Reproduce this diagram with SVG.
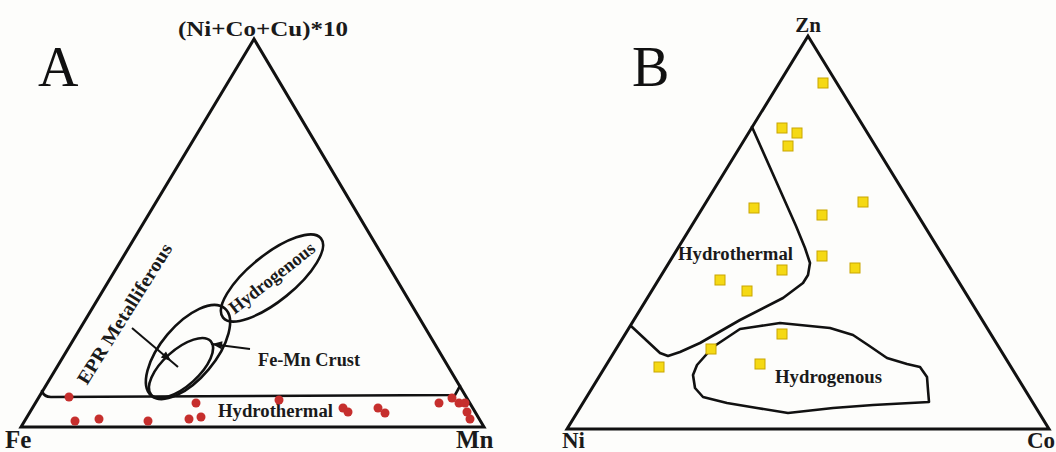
<svg xmlns="http://www.w3.org/2000/svg" width="1056" height="452" viewBox="0 0 1056 452">
<style>
.frame{fill:none;stroke:#111;stroke-width:3;stroke-linejoin:miter}
.reg{fill:none;stroke:#111;stroke-width:2.6;stroke-linejoin:round;stroke-linecap:round}
.lbl{font-family:"Liberation Serif",serif;font-weight:bold;fill:#1a1a1a}
.big{font-family:"Liberation Serif",serif;font-size:56px;fill:#111}
.dot{fill:#c62f2d}
.sq{fill:#f5d914;stroke:#c9a600;stroke-width:1}
.arr{stroke:#111;stroke-width:2;fill:none}
.head{fill:#111}
</style>
<rect width="1056" height="452" fill="#fdfdfb"/>

<!-- Panel A -->
<g id="panelA">
  <text class="big" x="38" y="86">A</text>
  <g id="triangleA">
    <path class="frame" d="M254,39 L21,427 L484,427 Z"/>
    <text class="lbl" x="263" y="36" font-size="21" text-anchor="middle" textLength="170" lengthAdjust="spacingAndGlyphs">(Ni+Co+Cu)*10</text>
    <text class="lbl" x="5" y="448" font-size="25">Fe</text>
    <text class="lbl" x="456" y="448" font-size="25">Mn</text>
  </g>
  <g id="hydrothermalA">
    <path class="reg" d="M42,391 Q44,397 51,397 L455,395 L460,386"/>
    <text class="lbl" x="218" y="417" font-size="18" textLength="115" lengthAdjust="spacingAndGlyphs">Hydrothermal</text>
  </g>
  <g id="hydrogenousA">
    <ellipse class="reg" cx="272" cy="278" rx="63" ry="23" transform="rotate(-39 272 278)"/>
    <text class="lbl" font-size="18.5" text-anchor="middle" transform="translate(272,278) rotate(-38)" y="6" textLength="104" lengthAdjust="spacingAndGlyphs">Hydrogenous</text>
  </g>
  <g id="eprMetalliferous">
    <ellipse class="reg" cx="188" cy="352" rx="57" ry="27" transform="rotate(-50 188 352)"/>
    <text class="lbl" font-size="19" text-anchor="middle" transform="translate(130,317) rotate(-58)" textLength="162" lengthAdjust="spacingAndGlyphs">EPR Metalliferous</text>
  </g>
  <g id="feMnCrust">
    <ellipse class="reg" cx="181" cy="368" rx="40" ry="18" transform="rotate(-42 181 368)"/>
    <text class="lbl" x="258" y="366" font-size="18" textLength="102" lengthAdjust="spacingAndGlyphs">Fe-Mn Crust</text>
  </g>
  <g id="samplesA">
    <circle class="dot" cx="69" cy="397" r="4.5"/>
    <circle class="dot" cx="75" cy="421" r="4.5"/>
    <circle class="dot" cx="99" cy="419" r="4.5"/>
    <circle class="dot" cx="148" cy="421" r="4.5"/>
    <circle class="dot" cx="196" cy="403" r="4.5"/>
    <circle class="dot" cx="189" cy="419" r="4.5"/>
    <circle class="dot" cx="201" cy="417" r="4.5"/>
    <circle class="dot" cx="279" cy="400" r="4.5"/>
    <circle class="dot" cx="343" cy="408" r="4.5"/>
    <circle class="dot" cx="348" cy="412" r="4.5"/>
    <circle class="dot" cx="378" cy="408" r="4.5"/>
    <circle class="dot" cx="385" cy="413" r="4.5"/>
    <circle class="dot" cx="439" cy="403" r="4.5"/>
    <circle class="dot" cx="452" cy="398" r="4.5"/>
    <circle class="dot" cx="459" cy="403" r="4.5"/>
    <circle class="dot" cx="465" cy="403" r="4.5"/>
    <circle class="dot" cx="467" cy="412" r="4.5"/>
    <circle class="dot" cx="470" cy="419" r="4.5"/>
  </g>
</g>

<g id="connectors">
  <line class="arr" x1="132" y1="328" x2="178" y2="367"/>
  <polygon class="head" points="171,361 160.8,357.6 166,351.4"/>
  <line class="arr" x1="250" y1="349" x2="211" y2="344"/>
  <polygon class="head" points="212,344 222.5,341.3 221.5,349.3"/>
</g>

<!-- Panel B -->
<g id="panelB">
  <text class="big" x="632" y="86">B</text>
  <g id="triangleB">
    <path class="frame" d="M808,36 L567,429 L1049,429 Z"/>
    <text class="lbl" x="808" y="32" font-size="21" text-anchor="middle">Zn</text>
    <text class="lbl" x="562" y="448" font-size="23">Ni</text>
    <text class="lbl" x="1027" y="448" font-size="23">Co</text>
  </g>
  <g id="hydrothermalB">
    <polyline class="reg" points="752,127 796,226 805,248 810,263 808,275 803,283 783,298 740,320 700,343 680,352 668,356 660,353 631,326"/>
    <text class="lbl" x="678" y="260" font-size="18" textLength="115" lengthAdjust="spacingAndGlyphs">Hydrothermal</text>
  </g>
  <g id="hydrogenousB">
    <polygon class="reg" points="697,365 713,347 740,329 760,326 780,323 830,328 853,335 868,345 887,358 907,364 920,367 927,377 928,390 929,402 873,405 833,408 788,413 757,408 727,403 703,397 695,388 693,375"/>
    <text class="lbl" x="775" y="383" font-size="18" textLength="107" lengthAdjust="spacingAndGlyphs">Hydrogenous</text>
  </g>
  <g id="samplesB">
    <rect class="sq" x="818" y="78" width="10" height="10"/>
    <rect class="sq" x="777" y="123" width="10" height="10"/>
    <rect class="sq" x="792" y="128" width="10" height="10"/>
    <rect class="sq" x="783" y="141" width="10" height="10"/>
    <rect class="sq" x="749" y="203" width="10" height="10"/>
    <rect class="sq" x="817" y="210" width="10" height="10"/>
    <rect class="sq" x="858" y="197" width="10" height="10"/>
    <rect class="sq" x="817" y="251" width="10" height="10"/>
    <rect class="sq" x="850" y="263" width="10" height="10"/>
    <rect class="sq" x="777" y="265" width="10" height="10"/>
    <rect class="sq" x="715" y="275" width="10" height="10"/>
    <rect class="sq" x="742" y="286" width="10" height="10"/>
    <rect class="sq" x="777" y="329" width="10" height="10"/>
    <rect class="sq" x="706" y="344" width="10" height="10"/>
    <rect class="sq" x="654" y="362" width="10" height="10"/>
    <rect class="sq" x="755" y="359" width="10" height="10"/>
  </g>
</g>
</svg>
